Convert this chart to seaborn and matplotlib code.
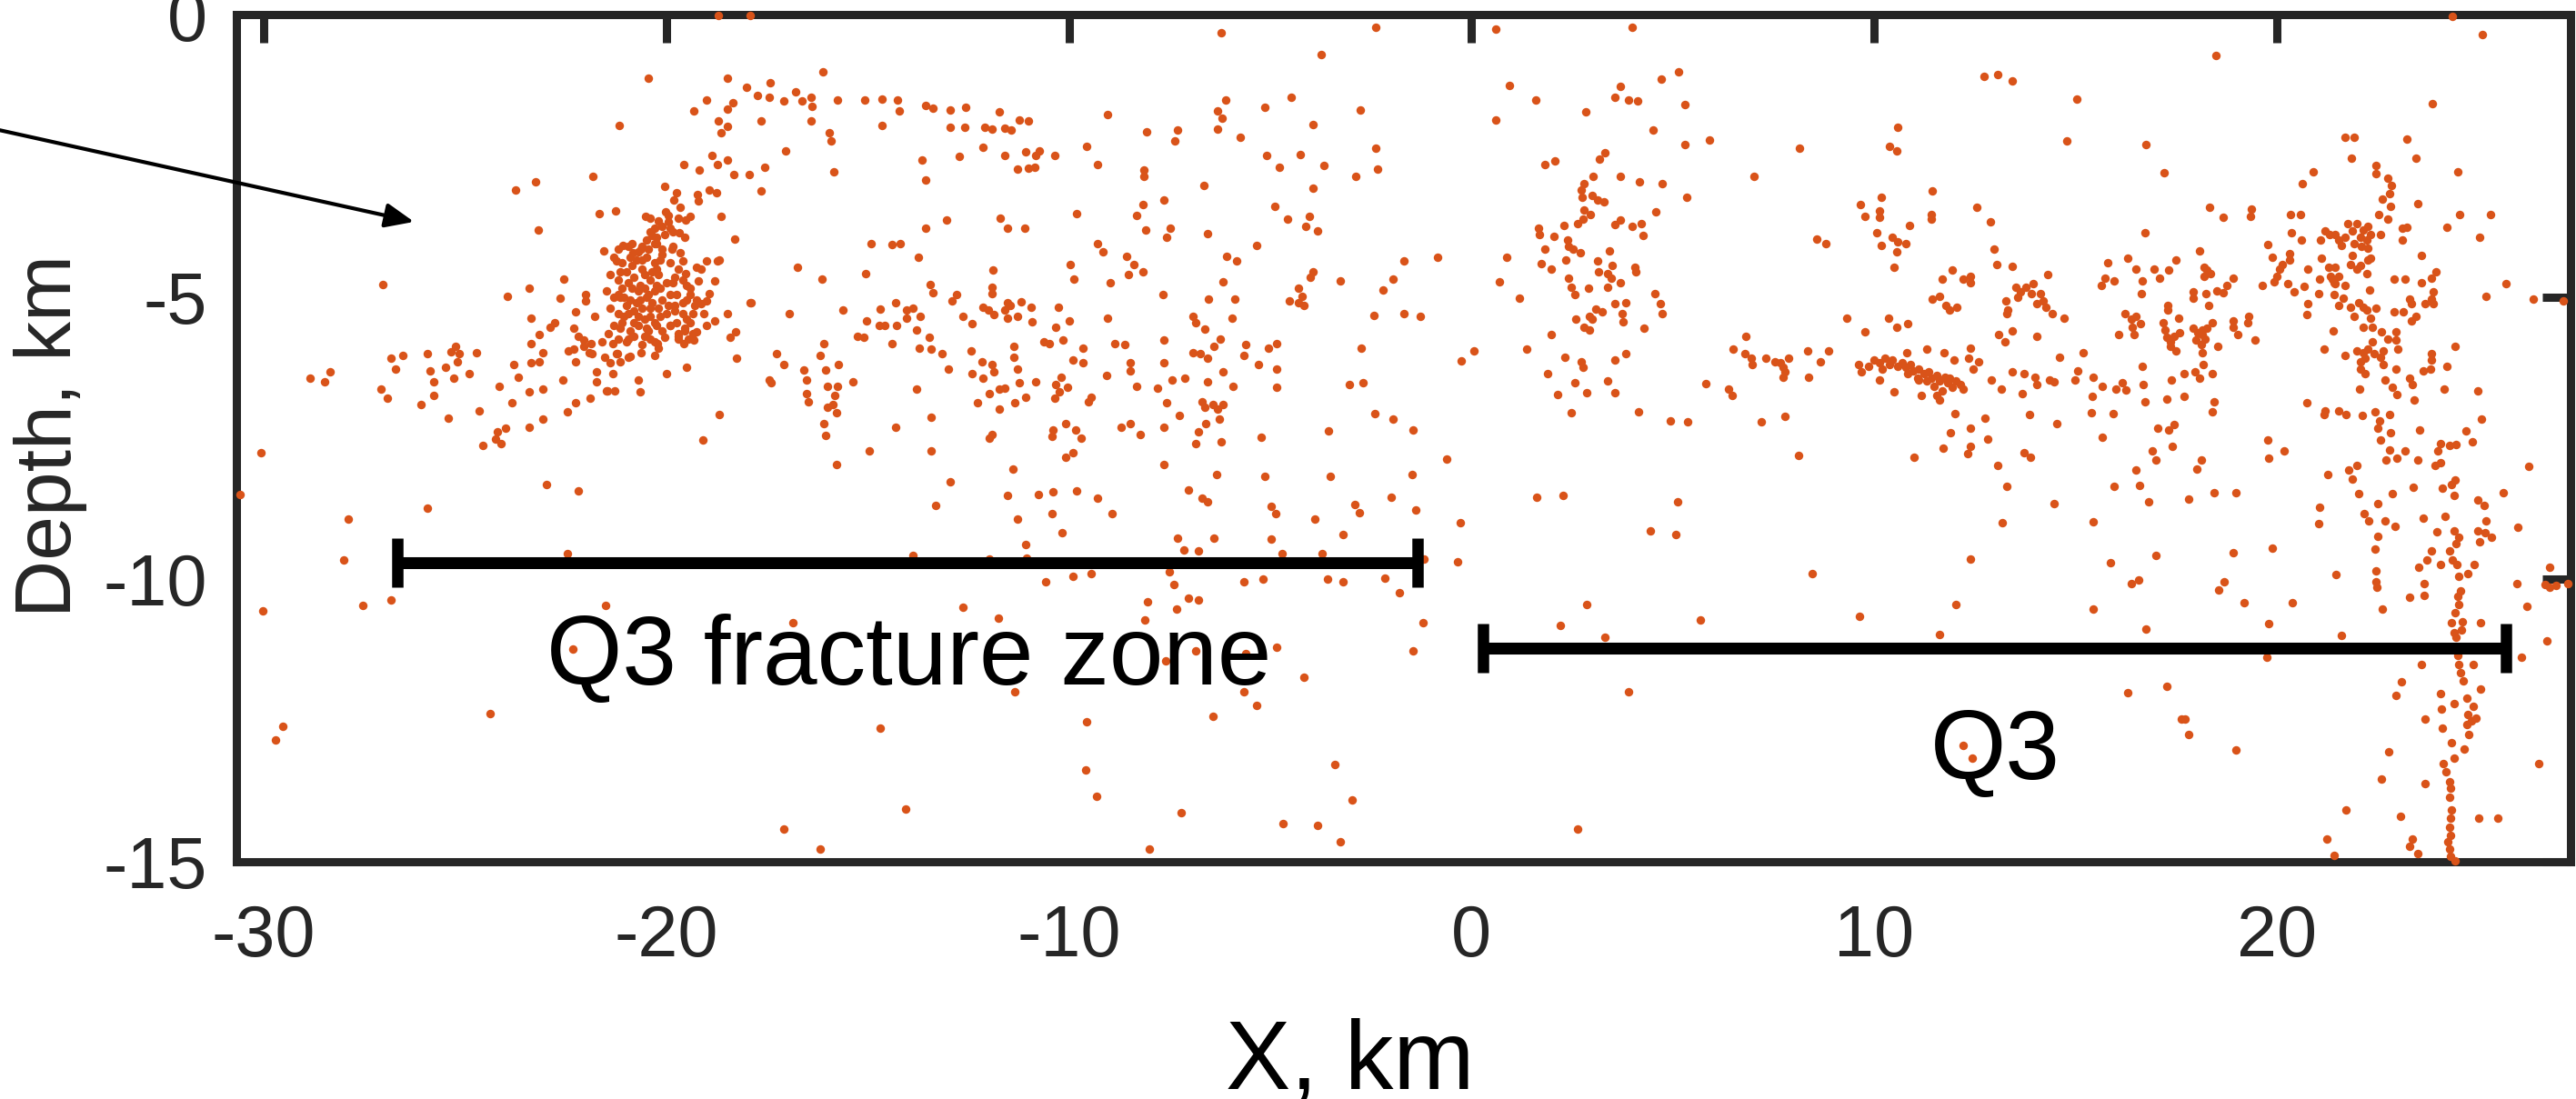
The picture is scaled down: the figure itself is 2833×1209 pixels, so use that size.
import numpy as np
import pandas as pd
import matplotlib
matplotlib.use('Agg')
import matplotlib.pyplot as plt
import seaborn as sns

far_west = [(-23.24, -2.96), (-23.74, -3.11), (-23.18, -3.81), (-27.04, -4.78), (-23.41, -4.85), (-23.94, -4.99),
            (-23.36, -5.37), (-23.16, -5.66), (-23.36, -5.82), (-23.06, -5.99), (-23.16, -6.15), (-23.36, -6.17),
            (-23.41, -6.68), (-23.06, -6.63), (-23.69, -6.42), (-23.79, -6.2), (-24.15, -6.58), (-23.84, -6.87),
            (-23.99, -7.33), (-24.2, -7.38), (-24.25, -7.52), (-24.1, -7.6), (-24.55, -7.63), (-23.41, -7.3),
            (-24.65, -7.01), (-24.9, -6.36), (-25.43, -7.14), (-25.28, -6.44), (-25.23, -5.88), (-25.15, -6.0),
            (-25.35, -5.97), (-25.2, -6.15), (-24.72, -5.99), (-25.48, -6.25), (-25.93, -6.01), (-25.88, -6.31),
            (-25.78, -6.5), (-25.78, -6.74), (-26.09, -6.9), (-26.54, -6.04), (-26.84, -6.09), (-26.74, -6.28),
            (-27.09, -6.63), (-26.94, -6.79), (-28.35, -6.33), (-28.5, -6.5), (-28.86, -6.44), (-30.07, -7.76),
            (-23.06, -7.17), (-21.9, -6.79), (-22.25, -6.87), (-22.45, -7.03), (-30.6, -8.5), (-27.91, -8.93),
            (-25.94, -8.74), (-22.97, -8.32), (-22.18, -8.43), (-28.01, -9.66), (-22.46, -9.54), (-30.02, -10.56),
            (-27.55, -10.46), (-26.84, -10.36), (-21.52, -10.46), (-22.33, -11.24), (-24.37, -12.38),
            (-29.52, -12.6), (-29.7, -12.85)]

fz_core = [(-21.3, -4.3), (-21.1, -4.4), (-20.9, -4.3), (-20.7, -4.2), (-20.5, -4.3), (-20.3, -4.4), (-20.1, -4.25),
           (-19.9, -4.4), (-19.7, -4.5), (-21.4, -4.6), (-21.2, -4.7), (-21.0, -4.55), (-20.8, -4.65), (-20.6, -4.5),
           (-20.4, -4.7), (-20.2, -4.6), (-20.0, -4.75), (-19.8, -4.65), (-19.5, -4.8), (-21.5, -4.9), (-21.3, -5.0),
           (-21.1, -4.85), (-20.9, -5.05), (-20.7, -4.9), (-20.5, -5.0), (-20.3, -4.9), (-20.1, -5.05), (-19.9, -4.95),
           (-19.6, -5.1), (-19.4, -4.95), (-21.4, -5.2), (-21.2, -5.3), (-21.0, -5.15), (-20.8, -5.25), (-20.6, -5.2),
           (-20.4, -5.35), (-20.2, -5.2), (-20.0, -5.3), (-19.8, -5.25), (-19.5, -5.4), (-21.3, -5.5), (-21.1, -5.45),
           (-20.9, -5.6), (-20.7, -5.5), (-20.5, -5.55), (-20.3, -5.45), (-20.1, -5.6), (-19.9, -5.5), (-21.2, -5.75),
           (-21.0, -5.8), (-20.8, -5.7), (-20.6, -5.85), (-20.4, -5.75), (-20.2, -5.9), (-20.95, -4.75), (-20.65, -4.8),
           (-20.35, -5.1), (-20.75, -5.1), (-21.05, -5.35), (-20.55, -5.4), (-20.25, -4.5), (-20.85, -4.45),
           (-21.15, -5.0), (-20.45, -4.95), (-20.15, -4.85), (-19.95, -5.15), (-20.6, -4.1), (-20.3, -4.05),
           (-20.05, -3.9), (-19.85, -4.1), (-20.4, -3.85), (-20.2, -3.65), (-19.95, -3.55), (-21.45, -5.65),
           (-21.25, -6.0), (-20.9, -6.05), (-19.7, -5.75), (-19.55, -5.6), (-19.35, -5.3), (-19.25, -5.05),
           (-21.2, -4.15), (-20.95, -4.1), (-20.75, -4.35), (-20.55, -4.6), (-20.35, -4.55), (-20.15, -4.35),
           (-21.15, -4.55), (-20.85, -4.85), (-20.55, -4.85), (-20.25, -4.8), (-21.05, -5.0), (-20.65, -5.05),
           (-20.4, -5.2), (-20.15, -5.35), (-20.95, -5.3), (-20.7, -5.35), (-21.15, -5.55), (-20.8, -5.45),
           (-20.45, -5.6), (-20.25, -5.5), (-20.95, -5.75), (-20.55, -5.7), (-20.3, -5.8), (-21.2, -4.95),
           (-20.6, -4.35), (-20.85, -4.05), (-20.45, -4.15), (-19.85, -4.75), (-19.6, -4.7), (-19.4, -4.85),
           (-19.75, -4.95), (-19.5, -5.05), (-19.3, -5.15), (-19.8, -5.15), (-19.6, -5.3), (-19.4, -5.45),
           (-19.75, -5.45), (-19.55, -5.55), (-19.35, -5.65), (-19.7, -5.65), (-19.45, -5.75), (-20.4, -3.6),
           (-20.1, -3.75), (-19.85, -3.85), (-20.25, -3.95), (-19.7, -3.6)]

fz_cluster = [(-21.83, -2.86), (-21.66, -3.53), (-21.27, -3.48), (-20.04, -3.04), (-19.74, -3.16), (-19.82, -3.29),
              (-19.22, -3.18), (-19.2, -3.3), (-18.94, -3.1), (-18.75, -3.16), (-19.65, -3.42), (-20.01, -3.49),
              (-20.52, -3.57), (-19.42, -3.57), (-19.52, -3.64), (-18.64, -3.57), (-19.95, -3.67), (-19.91, -3.78),
              (-20.3, -3.79), (-19.68, -3.86), (-18.31, -3.97), (-19.55, -3.95), (-20.36, -3.91), (-20.49, -3.99),
              (-21.56, -4.18), (-21.08, -4.09), (-21.25, -4.37), (-20.84, -4.21), (-20.62, -4.16), (-20.25, -4.05),
              (-20.12, -4.16), (-19.86, -4.16), (-19.66, -4.21), (-19.6, -4.37), (-19.26, -4.47), (-19.0, -4.37),
              (-18.74, -4.37), (-18.68, -4.34), (-19.13, -4.51), (-19.52, -4.59), (-19.2, -4.72), (-18.81, -4.72),
              (-22.55, -4.69), (-22.64, -5.02), (-22.0, -4.96), (-22.0, -5.07), (-22.26, -5.26), (-21.79, -5.34),
              (-22.31, -5.55), (-22.77, -5.45), (-22.9, -5.53), (-22.2, -5.69), (-22.06, -5.88), (-21.87, -5.82),
              (-21.61, -5.8), (-21.34, -5.82), (-21.92, -5.99), (-22.31, -5.93), (-21.53, -6.07), (-21.21, -6.01),
              (-21.14, -6.15), (-20.95, -6.07), (-20.62, -5.99), (-20.3, -6.04), (-21.4, -6.17), (-21.34, -6.36),
              (-21.73, -6.33), (-21.73, -6.5), (-22.57, -6.47), (-20.69, -6.47), (-20.65, -6.68), (-21.47, -6.66),
              (-20.0, -6.36), (-19.49, -6.24), (-19.58, -5.82), (-19.71, -5.69), (-19.32, -5.77), (-19.26, -5.61),
              (-19.0, -5.5), (-18.81, -5.42), (-18.48, -5.29), (-18.42, -5.72), (-18.29, -5.61), (-17.9, -5.11),
              (-18.94, -4.94), (-19.13, -5.12), (-19.0, -5.07), (-19.07, -5.29), (-22.44, -5.96), (-20.04, -5.72),
              (-20.23, -5.82), (-19.91, -5.5), (-21.29, -6.66), (-21.49, -6.66), (-22.25, -6.15), (-21.85, -6.0),
              (-22.05, -5.77)]

fz_top = [(-18.7, -0.02), (-17.93, -0.02), (-20.45, -1.13), (-18.48, -1.13), (-18.0, -1.29), (-17.43, -1.21),
          (-16.12, -1.02), (-21.17, -1.96), (-19.0, -1.52), (-19.32, -1.71), (-18.48, -1.68), (-18.35, -1.56),
          (-17.73, -1.44), (-17.44, -1.46), (-17.08, -1.53), (-16.79, -1.37), (-16.64, -1.53), (-16.4, -1.46),
          (-16.38, -1.63), (-15.75, -1.52), (-15.08, -1.52), (-14.65, -1.49), (-14.26, -1.52), (-14.22, -1.71),
          (-13.57, -1.61), (-13.39, -1.66), (-12.96, -1.69), (-12.57, -1.64), (-11.73, -1.73), (-11.23, -1.87),
          (-11.01, -1.88), (-18.7, -1.89), (-18.48, -1.98), (-18.64, -2.09), (-17.64, -1.88), (-16.4, -1.88),
          (-15.95, -2.09), (-15.92, -2.23), (-14.65, -1.96), (-12.96, -2.0), (-12.6, -1.99), (-12.09, -2.0),
          (-11.92, -2.03), (-11.6, -2.01), (-11.43, -2.05), (-17.05, -2.42), (-18.87, -2.49), (-18.74, -2.65),
          (-18.48, -2.58), (-19.58, -2.66), (-19.18, -2.76), (-18.32, -2.84), (-17.94, -2.84), (-17.55, -2.71),
          (-15.84, -2.78), (-13.65, -2.57), (-13.55, -2.93), (-12.73, -2.51), (-12.14, -2.35), (-11.6, -2.5),
          (-11.08, -2.43), (-10.82, -2.49), (-10.73, -2.41), (-10.36, -2.5), (-11.27, -2.73), (-11.01, -2.72),
          (-10.86, -2.7), (-9.56, -2.34), (-9.3, -2.66), (-9.04, -1.77), (-8.07, -2.07), (-7.31, -2.04),
          (-7.38, -2.23), (-8.13, -2.76), (-8.13, -2.87), (-6.23, -0.32), (-6.1, -1.52), (-6.3, -1.71),
          (-6.2, -1.84), (-6.3, -2.03), (-5.75, -2.18), (-5.14, -1.64), (-4.49, -1.47), (-3.94, -1.95),
          (-3.74, -0.71), (-5.08, -2.5), (-4.78, -2.71), (-4.26, -2.48), (-3.66, -2.67), (-2.87, -2.86),
          (-2.77, -1.69)]

fz_mid = [(-17.64, -3.12), (-6.66, -3.02), (-3.94, -3.08), (-4.88, -3.39), (-4.58, -3.62), (-4.04, -3.57),
          (-4.13, -3.75), (-3.83, -3.83), (-7.64, -3.28), (-8.16, -3.37), (-8.32, -3.56), (-8.09, -3.81),
          (-7.49, -3.78), (-7.57, -3.94), (-6.57, -3.88), (-5.35, -4.09), (-6.08, -4.28), (-5.84, -4.37),
          (-9.81, -3.53), (-9.29, -4.05), (-9.16, -4.2), (-8.57, -4.28), (-8.38, -4.42), (-8.52, -4.61),
          (-8.16, -4.56), (-9.97, -4.43), (-9.88, -4.69), (-8.97, -4.75), (-7.66, -4.95), (-6.17, -4.74),
          (-6.53, -5.04), (-5.88, -5.04), (-3.94, -4.56), (-4.0, -4.65), (-4.29, -4.85), (-4.22, -4.99),
          (-4.53, -5.07), (-4.16, -5.15), (-3.26, -4.72), (-11.88, -4.53), (-11.92, -4.83), (-11.92, -4.94),
          (-11.53, -5.1), (-11.18, -5.09), (-11.7, -3.6), (-11.1, -3.79), (-11.53, -3.78), (-13.05, -3.64),
          (-13.57, -3.79), (-14.91, -4.05), (-14.39, -4.07), (-14.19, -4.06), (-13.74, -4.29), (-16.75, -4.47),
          (-16.14, -4.68), (-15.06, -4.59), (-13.44, -4.78), (-13.39, -4.92), (-12.79, -4.95), (-12.9, -5.07),
          (-17.92, -5.11), (-16.96, -5.29), (-15.61, -5.23), (-14.68, -5.22), (-14.3, -5.11), (-14.03, -5.23),
          (-13.87, -5.2), (-13.7, -5.34), (-14.04, -5.37), (-15.04, -5.43), (-14.58, -5.5), (-14.29, -5.5),
          (-13.78, -5.58), (-13.48, -5.72), (-12.64, -5.34), (-12.4, -5.47), (-12.14, -5.19), (-12.01, -5.23),
          (-11.86, -5.31), (-11.6, -5.23), (-11.47, -5.15), (-11.53, -5.37), (-11.27, -5.34), (-10.95, -5.18),
          (-10.92, -5.44), (-10.26, -5.19), (-10.0, -5.42), (-10.32, -5.53), (-9.04, -5.37), (-6.92, -5.34),
          (-6.86, -5.45), (-6.62, -5.57), (-5.94, -5.37), (-4.29, -5.11), (-2.74, -5.9), (-2.7, -6.52),
          (-3.03, -6.55), (-15.26, -5.69), (-15.1, -5.72), (-14.39, -5.82), (-16.1, -5.82), (-16.19, -6.03),
          (-17.27, -6.0), (-18.26, -6.09), (-17.08, -6.2), (-16.58, -6.3), (-16.04, -6.29), (-15.73, -6.2),
          (-17.44, -6.47), (-17.41, -6.52), (-16.53, -6.47), (-16.01, -6.58), (-15.75, -6.58), (-15.36, -6.5),
          (-16.53, -6.71), (-16.47, -6.85), (-16.01, -6.95), (-15.82, -6.74), (-15.86, -6.9), (-13.78, -6.63),
          (-13.42, -5.93), (-13.16, -6.01), (-13.0, -6.28), (-13.71, -5.9), (-12.44, -5.96), (-12.17, -6.15),
          (-11.92, -6.2), (-11.86, -6.33), (-12.4, -6.36), (-12.14, -6.44), (-11.99, -6.71), (-12.27, -6.87),
          (-11.73, -6.63), (-11.6, -6.61), (-11.73, -6.98), (-11.36, -5.88), (-11.36, -6.07), (-11.27, -6.28),
          (-11.23, -6.52), (-11.08, -6.77), (-10.82, -6.5), (-10.62, -5.8), (-10.49, -5.82), (-10.14, -5.77),
          (-9.65, -5.9), (-9.91, -6.12), (-9.65, -6.17), (-10.19, -6.42), (-10.32, -6.55), (-10.23, -6.68),
          (-10.04, -6.6), (-10.36, -6.79), (-9.45, -6.77), (-9.52, -6.85), (-9.06, -6.39), (-8.87, -5.82),
          (-8.61, -5.85), (-8.48, -6.17), (-8.48, -6.31), (-8.31, -6.58), (-7.81, -6.61), (-7.64, -6.17),
          (-7.64, -5.77), (-7.44, -6.47), (-7.12, -6.44), (-6.92, -5.99), (-6.73, -6.01), (-6.56, -6.09),
          (-6.4, -5.88), (-6.25, -5.74), (-5.62, -5.85), (-5.65, -6.04), (-5.3, -6.2), (-5.04, -5.9),
          (-4.84, -5.82), (-4.84, -6.28), (-4.84, -6.6), (-5.92, -6.58), (-6.18, -6.33), (-6.57, -6.5),
          (-6.7, -6.85), (-6.62, -6.95), (-6.43, -6.9), (-6.3, -6.98), (-6.18, -6.9), (-7.57, -6.87),
          (-11.34, -6.87), (-14.71, -5.5)]

fz_deep = [(-18.68, -7.09), (-19.09, -7.53), (-16.08, -7.25), (-16.05, -7.45), (-15.78, -7.05), (-15.78, -7.96),
           (-14.97, -7.72), (-14.3, -7.31), (-13.42, -7.13), (-13.42, -7.72), (-12.96, -8.27), (-13.31, -8.69),
           (-11.92, -7.43), (-11.99, -7.5), (-11.4, -8.05), (-11.53, -8.51), (-11.27, -8.94), (-11.08, -9.38),
           (-10.39, -7.36), (-10.43, -7.47), (-10.08, -7.25), (-9.84, -7.36), (-9.69, -7.5), (-9.91, -7.76),
           (-10.08, -7.84), (-10.75, -8.5), (-10.4, -8.45), (-9.81, -8.43), (-9.29, -8.56), (-10.43, -8.84),
           (-8.94, -8.84), (-10.17, -9.18), (-8.48, -7.25), (-8.71, -7.31), (-8.22, -7.44), (-7.64, -7.31),
           (-7.64, -7.97), (-7.25, -7.1), (-6.79, -7.38), (-6.86, -7.6), (-6.6, -7.25), (-6.27, -7.17),
           (-6.21, -7.56), (-6.34, -8.14), (-7.03, -8.42), (-6.69, -8.56), (-6.56, -8.62), (-7.31, -9.27),
           (-6.4, -9.27), (-7.15, -9.48), (-6.79, -9.49), (-5.23, -7.48), (-5.13, -8.18), (-4.97, -8.7),
           (-4.87, -8.84), (-4.97, -9.28), (-4.71, -9.55), (-3.9, -8.94), (-3.71, -9.55), (-3.55, -7.37),
           (-3.51, -8.18), (-3.19, -9.2), (-2.9, -8.67), (-2.79, -8.82), (-13.87, -9.57), (-11.99, -9.64),
           (-11.05, -9.62), (-10.58, -10.05), (-9.91, -9.94), (-9.45, -9.9), (-7.51, -9.86), (-7.4, -10.09),
           (-8.05, -10.4), (-8.12, -10.72), (-7.03, -10.34), (-6.79, -10.37), (-7.33, -10.53), (-5.66, -10.05),
           (-5.19, -9.99), (-3.58, -10.0), (-3.19, -10.04), (-12.64, -10.49), (-11.75, -10.69), (-16.86, -10.77),
           (-6.86, -11.26), (-5.6, -11.31), (-4.84, -11.2), (-4.17, -11.74), (-7.6, -11.44), (-5.65, -11.99),
           (-5.34, -12.24), (-6.43, -12.43), (-11.34, -11.99), (-9.56, -12.52), (-14.68, -12.63), (-9.58, -13.38),
           (-9.32, -13.84), (-7.21, -14.13), (-3.39, -13.28), (-2.96, -13.91), (-14.06, -14.06), (-17.08, -14.42),
           (-16.17, -14.77), (-4.69, -14.33), (-3.83, -14.36), (-3.26, -14.65), (-8.0, -14.78)]

q3_mid = [(-2.38, -0.23), (0.61, -0.26), (4.0, -0.23), (0.95, -1.26), (1.6, -1.52), (0.61, -1.86), (-2.38, -2.37),
          (-2.34, -2.73), (2.83, -1.73), (3.7, -1.28), (3.57, -1.47), (3.9, -1.52), (4.13, -1.53), (4.71, -1.15),
          (5.14, -1.01), (5.3, -1.6), (4.52, -2.04), (5.3, -2.31), (5.91, -2.22), (3.31, -2.45), (3.18, -2.56),
          (1.82, -2.66), (2.08, -2.59), (3.01, -2.86), (3.7, -2.86), (4.18, -2.97), (4.74, -2.99), (5.35, -3.24),
          (2.79, -3.0), (2.73, -3.11), (2.75, -3.24), (2.99, -3.21), (3.12, -3.29), (3.29, -3.32), (2.79, -3.46),
          (2.95, -3.54), (2.77, -3.62), (2.64, -3.71), (1.66, -3.78), (1.69, -3.89), (2.04, -3.93), (2.29, -3.73),
          (2.38, -3.99), (2.4, -4.1), (2.53, -4.16), (2.7, -4.21), (1.83, -4.16), (2.34, -4.34), (1.73, -4.41),
          (1.99, -4.5), (3.12, -4.37), (3.42, -4.18), (3.57, -3.72), (3.7, -3.64), (3.99, -3.75), (4.22, -3.7),
          (4.25, -3.91), (4.57, -3.5), (3.5, -4.45), (3.16, -4.56), (3.38, -4.59), (4.06, -4.48), (4.09, -4.56),
          (2.4, -4.67), (2.47, -4.83), (2.57, -4.96), (2.9, -4.84), (3.38, -4.83), (3.7, -4.75), (3.47, -4.67),
          (4.55, -4.94), (4.7, -5.12), (4.74, -5.29), (3.55, -5.12), (3.83, -5.1), (3.09, -5.22), (3.25, -5.26),
          (2.92, -5.34), (3.0, -5.39), (2.6, -5.4), (2.79, -5.53), (2.92, -5.58), (3.73, -5.29), (3.77, -5.44),
          (4.29, -5.55), (1.99, -5.66), (-2.43, -5.33), (-1.69, -5.3), (-1.27, -5.34), (-2.21, -4.87),
          (-1.95, -4.68), (-1.69, -4.37), (-0.84, -4.29), (0.88, -4.29), (0.69, -4.74), (1.18, -5.03),
          (1.36, -5.93), (0.06, -5.96), (-0.26, -6.14), (2.31, -6.07), (2.73, -6.15), (2.77, -6.25), (3.57, -6.12),
          (3.83, -6.01), (1.88, -6.35), (2.57, -6.52), (3.38, -6.49), (2.86, -6.7), (3.55, -6.7), (2.14, -6.73),
          (5.82, -6.53), (6.39, -6.63), (6.47, -6.74), (6.82, -5.7), (6.49, -5.93), (6.79, -6.01), (6.95, -6.09),
          (6.97, -6.2), (7.31, -6.09), (7.53, -6.15), (7.66, -6.17), (7.73, -6.25), (7.79, -6.33), (7.88, -6.09),
          (7.73, -6.42), (8.35, -5.96), (8.66, -6.15), (8.87, -5.96), (8.38, -6.42), (7.01, -2.86), (8.14, -2.37),
          (10.58, -2.0), (10.39, -2.34), (10.56, -2.41), (12.73, -1.09), (13.08, -1.06), (13.42, -1.17),
          (15.03, -1.49), (14.78, -2.23), (9.65, -3.37), (10.17, -3.23), (9.78, -3.57), (10.13, -3.48),
          (10.13, -3.59), (10.87, -3.74), (11.45, -3.12), (11.43, -3.54), (11.43, -3.62), (12.56, -3.41),
          (12.88, -3.67), (8.57, -3.97), (8.81, -4.05), (10.06, -3.86), (10.45, -3.94), (10.58, -4.02),
          (10.78, -4.05), (10.17, -4.09), (10.56, -4.2), (10.49, -4.48), (12.99, -4.15), (13.05, -4.42),
          (13.42, -4.46), (11.95, -4.52), (11.69, -4.69), (12.21, -4.69), (12.4, -4.64), (12.4, -4.75),
          (11.45, -5.04), (11.62, -4.99), (11.79, -5.15), (11.88, -5.23), (12.05, -5.18), (10.36, -5.38),
          (10.56, -5.53), (10.84, -5.47), (9.78, -5.61), (9.31, -5.38), (13.27, -5.07), (13.31, -5.23),
          (13.29, -5.29), (13.51, -4.83), (13.64, -4.91), (13.77, -4.83), (13.96, -4.77), (13.57, -5.0),
          (13.9, -4.94), (14.12, -4.94), (14.03, -5.12), (14.19, -5.07), (14.26, -5.18), (14.42, -5.29),
          (14.71, -5.37), (14.32, -4.61), (13.1, -5.66), (13.25, -5.8), (13.44, -5.6), (14.05, -5.69),
          (15.19, -5.99), (14.61, -6.07), (15.06, -6.31), (15.0, -6.47), (14.35, -6.47), (14.48, -6.51),
          (14.0, -6.42), (14.03, -6.55), (13.44, -6.33), (13.73, -6.36), (12.92, -6.47), (13.16, -6.63),
          (13.68, -6.71), (12.34, -6.09), (12.47, -6.28), (12.6, -6.15), (12.4, -5.9), (11.99, -6.12),
          (11.73, -5.99), (11.3, -5.93), (10.81, -5.99), (10.49, -6.68), (11.17, -6.74), (10.13, -6.47),
          (11.08, -6.44), (15.42, -6.76)]

q3_streak = [(9.61, -6.2), (9.68, -6.33), (9.87, -6.23), (10.0, -6.12), (10.13, -6.17), (10.26, -6.09),
             (10.39, -6.2), (10.45, -6.12), (10.58, -6.23), (10.69, -6.17), (10.78, -6.25), (10.91, -6.2),
             (10.97, -6.31), (11.1, -6.28), (11.23, -6.36), (11.36, -6.33), (11.43, -6.44), (11.56, -6.39),
             (11.62, -6.49), (11.75, -6.42), (11.82, -6.52), (11.88, -6.44), (11.95, -6.6), (12.04, -6.49),
             (12.14, -6.55), (12.21, -6.63), (11.49, -6.58), (11.3, -6.49), (11.69, -6.66), (11.56, -6.74),
             (11.62, -6.82), (10.19, -6.28), (10.84, -6.36), (11.1, -6.47)]

q3_east = [(24.36, -0.04), (25.11, -0.36), (18.49, -0.73), (23.87, -1.57), (21.69, -2.18), (21.93, -2.18),
           (23.23, -2.2), (16.74, -2.3), (21.86, -2.55), (23.46, -2.55), (22.46, -2.67), (22.46, -2.81),
           (20.91, -2.78), (24.5, -2.78), (17.21, -2.8), (20.63, -2.99), (22.75, -2.89), (22.86, -3.02),
           (22.8, -3.17), (22.63, -3.27), (22.83, -3.39), (23.51, -3.35), (18.33, -3.42), (18.68, -3.59),
           (19.37, -3.44), (19.35, -3.57), (20.35, -3.54), (20.6, -3.54), (22.54, -3.54), (22.77, -3.62),
           (24.55, -3.54), (25.3, -3.54), (16.72, -3.86), (23.11, -3.78), (23.23, -3.77), (24.23, -3.77),
           (25.05, -3.94), (20.37, -3.86), (20.61, -3.99), (21.08, -3.99), (21.19, -3.83), (21.31, -3.89),
           (21.46, -3.89), (21.54, -3.99), (21.69, -3.94), (21.77, -3.7), (22.0, -3.71), (21.88, -3.83),
           (22.15, -3.81), (22.27, -3.75), (22.08, -3.94), (22.23, -3.99), (22.34, -3.89), (22.57, -3.89),
           (21.6, -4.09), (21.92, -4.05), (22.11, -4.1), (22.27, -4.13), (23.11, -4.0), (19.78, -4.07),
           (19.88, -4.3), (20.31, -4.24), (20.32, -4.35), (20.08, -4.5), (20.0, -4.64), (20.15, -4.42),
           (20.77, -4.5), (21.11, -4.32), (21.29, -4.47), (21.46, -4.48), (21.34, -4.64), (21.54, -4.64),
           (21.42, -4.75), (21.88, -4.26), (21.84, -4.42), (22.0, -4.5), (22.23, -4.59), (22.27, -4.34),
           (22.34, -4.32), (22.08, -4.45), (23.6, -4.26), (23.96, -4.56), (23.84, -4.67), (22.92, -4.69),
           (23.19, -4.69), (23.6, -4.75), (19.65, -4.8), (19.94, -4.74), (20.27, -4.77), (20.44, -4.91),
           (20.69, -4.82), (21.06, -4.68), (21.38, -4.69), (21.46, -4.77), (21.69, -4.8), (21.04, -4.94),
           (21.42, -4.95), (21.65, -5.03), (20.78, -5.12), (20.74, -5.31), (21.54, -5.15), (21.84, -5.18),
           (22.04, -5.1), (22.15, -5.18), (22.23, -5.23), (22.46, -5.2), (22.31, -4.88), (23.3, -5.04),
           (23.35, -5.12), (23.89, -4.91), (23.84, -5.04), (23.89, -5.12), (23.69, -5.12), (25.19, -4.99),
           (25.7, -4.77), (26.38, -5.04), (27.11, -5.07), (21.92, -5.34), (22.34, -5.37), (22.91, -5.27),
           (23.14, -5.27), (23.46, -5.34), (23.35, -5.42), (21.4, -5.6), (22.14, -5.53), (22.38, -5.53),
           (22.61, -5.61), (22.77, -5.74), (22.96, -5.61), (22.96, -5.77), (21.17, -5.92), (21.69, -6.03),
           (22.0, -5.96), (22.15, -5.99), (22.27, -5.93), (22.38, -5.8), (22.42, -6.01), (22.57, -6.07),
           (22.65, -5.96), (22.65, -6.2), (22.08, -6.15), (22.19, -6.09), (23.0, -5.93), (22.08, -6.28),
           (22.19, -6.36), (22.96, -6.28), (23.84, -6.01), (23.84, -6.12), (24.42, -5.88), (24.23, -6.23),
           (23.65, -6.31), (23.83, -6.27), (23.3, -6.44), (23.38, -6.55), (22.69, -6.47), (22.88, -6.6),
           (22.99, -6.72), (22.06, -6.63), (24.17, -6.63), (25.0, -6.66), (23.41, -6.82), (20.75, -6.87),
           (21.19, -7.01), (21.17, -7.09), (21.54, -7.01), (21.71, -7.09), (22.13, -7.1), (22.44, -7.03),
           (22.81, -7.09), (22.56, -7.2), (22.52, -7.33), (22.83, -7.41), (22.57, -7.53), (23.55, -7.36),
           (24.71, -7.37), (25.09, -7.17), (24.87, -7.56), (24.07, -7.6), (24.3, -7.63), (24.46, -7.61),
           (22.81, -7.71), (23.19, -7.73), (23.99, -7.73), (20.19, -7.73), (19.78, -7.53), (15.43, -6.42),
           (15.67, -6.58), (16.0, -6.63), (16.16, -6.52), (16.25, -6.64), (16.69, -6.55), (16.72, -6.85),
           (17.26, -6.81), (15.93, -7.06), (15.66, -7.48), (17.04, -7.33), (17.31, -7.36), (17.45, -7.26),
           (17.4, -7.65), (16.92, -7.73), (17.69, -6.76), (18.45, -6.85), (18.39, -7.04), (17.69, -6.35),
           (17.96, -6.33), (18.08, -6.44), (18.39, -6.36), (17.39, -6.47), (16.66, -6.23), (16.08, -5.66),
           (16.23, -5.29), (16.38, -5.39), (16.5, -5.34), (16.61, -5.47), (16.42, -5.53), (16.46, -5.66),
           (17.17, -5.45), (17.23, -5.58), (17.27, -5.72), (17.35, -5.8), (17.46, -5.69), (17.58, -5.64),
           (17.35, -5.88), (17.5, -5.96), (17.56, -5.37), (17.3, -5.15), (17.3, -5.23), (17.92, -5.55),
           (18.04, -5.64), (18.16, -5.58), (18.27, -5.55), (18.39, -5.45), (18.16, -5.66), (18.0, -5.77),
           (18.12, -5.85), (18.23, -5.74), (18.16, -5.99), (18.18, -6.2), (18.54, -5.88), (18.31, -5.15),
           (17.92, -4.91), (17.92, -5.02), (18.24, -4.94), (18.19, -4.48), (18.27, -4.53), (18.19, -4.64),
           (18.35, -4.59), (18.51, -4.9), (18.68, -4.92), (18.76, -4.8), (18.92, -4.67), (18.08, -4.18),
           (17.5, -4.34), (17.31, -4.52), (17.08, -4.67), (16.96, -4.5), (16.67, -4.72), (16.63, -4.94),
           (16.5, -4.5), (16.31, -4.31), (15.81, -4.4), (15.73, -4.67), (15.65, -4.8), (15.96, -4.72),
           (18.92, -5.42), (18.92, -5.53), (19.04, -5.66), (19.31, -5.34), (19.27, -5.45), (19.46, -5.77)]

q3_deep = [(16.5, -8.07), (17.01, -7.89), (18.12, -7.89), (18.01, -8.05), (15.96, -8.36), (16.6, -8.33),
           (16.82, -8.63), (15.45, -8.98), (17.82, -8.58), (18.45, -8.46), (18.99, -8.46), (19.79, -7.85),
           (21.06, -8.73), (21.04, -9.02), (21.27, -8.14), (21.78, -8.07), (22.0, -7.98), (21.87, -8.22),
           (22.04, -8.49), (22.18, -8.84), (22.28, -8.97), (22.52, -8.66), (22.69, -8.96), (22.95, -9.06),
           (22.88, -8.49), (22.72, -7.88), (22.98, -7.86), (23.5, -7.89), (23.4, -8.37), (23.94, -7.98),
           (24.06, -7.93), (24.12, -8.39), (24.33, -8.32), (24.44, -8.24), (24.4, -8.51), (24.19, -8.88),
           (23.64, -8.91), (23.98, -9.16), (24.4, -9.14), (24.52, -9.25), (24.46, -9.36), (25.0, -8.6),
           (25.16, -8.69), (25.19, -8.97), (25.0, -9.14), (25.18, -9.18), (25.34, -9.25), (25.05, -9.34),
           (25.63, -8.46), (26.25, -8.0), (25.98, -9.08), (22.52, -9.24), (22.45, -9.46), (22.47, -9.85),
           (22.47, -10.04), (22.49, -10.14), (21.48, -9.92), (23.52, -9.79), (23.73, -9.66), (23.85, -9.49),
           (24.08, -9.73), (24.3, -9.49), (24.37, -9.66), (24.47, -9.74), (24.9, -9.74), (24.52, -9.95),
           (24.75, -9.9), (23.67, -10.08), (23.67, -10.28), (23.29, -10.31), (24.57, -10.21), (24.53, -10.45),
           (24.44, -10.59), (24.33, -10.77), (24.6, -10.75), (24.4, -10.95), (24.45, -11.02), (25.06, -10.77),
           (25.96, -10.08), (26.21, -10.47), (26.71, -11.09), (26.77, -9.79), (26.67, -10.09), (26.77, -10.14),
           (26.94, -10.1), (27.22, -10.08), (22.62, -10.53), (21.61, -10.99), (19.79, -10.79), (19.75, -11.38),
           (16.76, -10.88), (16.4, -10.07), (16.56, -10.01), (16.99, -9.57), (15.87, -9.7), (15.45, -10.53),
           (18.93, -9.53), (19.89, -9.44), (18.56, -10.19), (18.7, -10.04), (19.2, -10.41), (20.39, -10.41),
           (16.3, -12.0), (17.28, -11.89), (17.64, -12.48), (17.72, -12.48), (17.81, -12.75), (18.99, -13.02),
           (23.6, -11.5), (24.52, -11.5), (24.56, -11.65), (24.64, -11.79), (24.89, -11.5), (23.1, -11.82),
           (22.97, -12.06), (24.08, -12.02), (24.1, -12.29), (23.68, -12.47), (24.12, -12.64), (24.73, -12.1),
           (24.88, -12.25), (25.07, -11.95), (24.75, -12.39), (24.83, -12.5), (24.72, -12.57), (24.94, -12.46),
           (24.77, -12.75), (26.07, -11.38), (24.14, -13.26), (24.21, -13.4), (24.4, -13.16), (24.65, -13.0),
           (24.29, -13.58), (24.31, -13.69), (26.5, -13.26), (22.78, -13.05), (22.61, -13.54), (23.69, -13.61),
           (21.71, -14.08), (23.07, -14.19), (24.33, -14.08), (24.31, -14.22), (24.29, -14.39), (24.31, -14.53),
           (24.25, -14.64), (24.29, -14.78), (24.42, -14.98), (25.02, -14.22), (25.5, -14.22), (21.24, -14.59),
           (21.42, -14.89), (23.38, -14.59), (23.29, -14.72), (23.5, -14.86), (24.5, -10.3), (24.45, -11.2),
           (24.5, -11.35), (24.4, -12.2), (24.35, -12.9), (24.3, -13.85), (24.32, -14.9), (24.58, -10.9)]

gap_deep = [(-2.4, -7.06), (-1.96, -7.16), (-1.45, -7.36), (-0.61, -7.87), (-1.48, -8.14), (-2.0, -8.54),
            (-1.39, -8.77), (-0.28, -9.0), (-1.18, -9.64), (-0.34, -9.69), (-2.16, -9.98), (-1.79, -10.23),
            (-1.2, -10.76), (-1.45, -11.26), (1.62, -8.54), (2.27, -8.52), (2.48, -7.05), (4.15, -7.04),
            (4.93, -7.2), (5.36, -7.21), (5.12, -8.62), (4.44, -9.14), (5.08, -9.2), (7.2, -7.21), (7.79, -7.12),
            (8.12, -7.8), (8.47, -9.9), (2.87, -10.45), (2.21, -10.82), (3.31, -11.03), (5.69, -10.72),
            (9.63, -10.66), (11.62, -10.97), (12.02, -10.45), (12.39, -9.64), (3.89, -11.99), (2.63, -14.42),
            (10.98, -7.84), (11.72, -7.68), (11.89, -7.41), (12.39, -7.33), (12.01, -7.07), (12.76, -7.15),
            (12.81, -7.52), (12.32, -7.77), (12.39, -7.65), (13.06, -7.99), (13.3, -8.35), (13.18, -8.99),
            (13.73, -7.76), (13.89, -7.84), (13.85, -7.09), (14.54, -7.25), (15.39, -7.05), (14.48, -8.66),
            (12.21, -12.94), (12.44, -13.17)]

# annotation bars: (start km, end km, depth km, label)
bar_x0 = [-26.69, 0.29]
bar_x1 = [-1.33, 25.70]
bar_y = [-9.71, -11.22]
bar_labels = ['Q3 fracture zone', 'Q3']
label_x = [-13.98, 13.01]
label_y = [-11.87, -13.53]

x_ticks = [-30, -20, -10, 0, 10, 20]
y_ticks = [0, -5, -10, -15]

groups = [far_west, fz_core, fz_cluster, fz_top, fz_mid, fz_deep, q3_mid, q3_streak, q3_east, q3_deep, gap_deep]
pts = [p for g in groups for p in g]
df = pd.DataFrame(pts, columns=['x', 'depth'])

sns.set_style('white')
plt.rcParams['font.family'] = ['Liberation Sans', 'DejaVu Sans']
plt.rcParams['axes.unicode_minus'] = False

axis_col = '#262626'
dot_col = '#D95319'

fig = plt.figure(figsize=(28.33, 12.09), dpi=100)
ax = fig.add_axes([0.0918, 0.2159, 0.9061, 0.7709])

sns.scatterplot(data=df, x='x', y='depth', color=dot_col, s=46, linewidth=0, ax=ax,
                legend=False, zorder=3, clip_on=False)

# scale bars with end caps
cap = 0.435
for x0, x1, y in zip(bar_x0, bar_x1, bar_y):
    ax.plot([x0, x1], [y, y], color='black', lw=9.4, solid_capstyle='butt', zorder=4)
    ax.plot([x0, x0], [y - cap, y + cap], color='black', lw=9, solid_capstyle='butt', zorder=4)
    ax.plot([x1, x1], [y - cap, y + cap], color='black', lw=9, solid_capstyle='butt', zorder=4)
for t, tx, ty in zip(bar_labels, label_x, label_y):
    ax.text(tx, ty, t, fontsize=77, color='black', ha='center', va='baseline', zorder=5)

# arrow coming in from the left margin
ax.annotate('', xy=(-26.27, -3.67), xytext=(-37.5, -1.9), annotation_clip=False,
            arrowprops=dict(arrowstyle='-|>,head_length=0.4,head_width=0.17', color='black',
                            lw=3, mutation_scale=48, shrinkA=0, shrinkB=0))

ax.set_xlim(-30.68, 27.30)
ax.set_ylim(-15, 0)
ax.set_xticks(x_ticks)
ax.set_yticks(y_ticks)

for sp in ax.spines.values():
    sp.set_visible(True)
    sp.set_linewidth(6.5)
    sp.set_color(axis_col)
    sp.set_zorder(2.5)

ax.tick_params(axis='both', which='both', direction='in', length=22, width=6.5, color=axis_col,
               labelcolor=axis_col, labelsize=57, top=True, right=True)
ax.tick_params(axis='x', pad=33)
ax.tick_params(axis='y', pad=23)

ax.set_xlabel('X, km', fontsize=77, color='black')
ax.xaxis.label.set_va('baseline')
ax.xaxis.set_label_coords(0.477, -0.268)
ax.set_ylabel('Depth, km', fontsize=63, color=axis_col)
ax.yaxis.label.set_va('baseline')
ax.yaxis.set_label_coords(-0.0709, 0.5027)

fig.savefig('out.png', dpi=100)
